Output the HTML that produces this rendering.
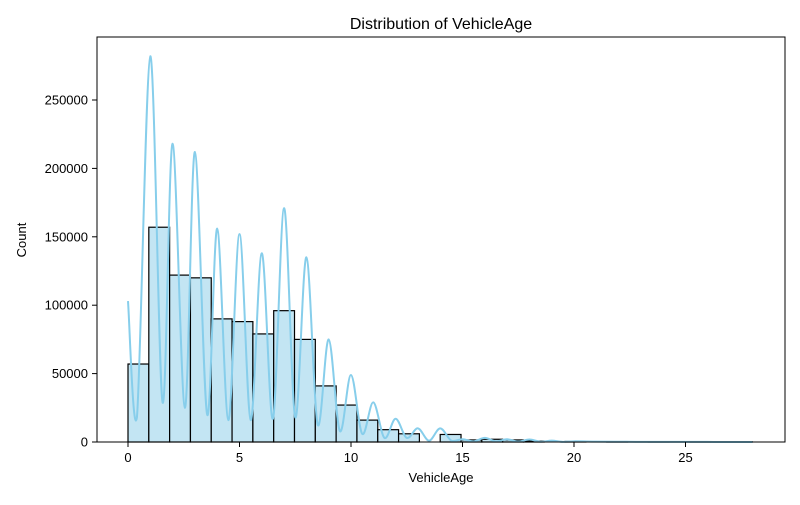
<!DOCTYPE html>
<html><head><meta charset="utf-8"><style>
body{margin:0;background:#fff;}
svg text{font-family:"Liberation Sans","DejaVu Sans",sans-serif;fill:#000;}
</style></head><body>
<svg id="chart" width="800" height="500" xmlns="http://www.w3.org/2000/svg">
<rect width="800" height="500" fill="#fff"/>
<g id="bars"></g>
<g id="kde"></g>
<rect x="97" y="37" width="688" height="405" fill="none" stroke="#000" stroke-width="1"/>
<g id="xticks"></g>
<g id="yticks"></g>
<text x="441" y="29" font-size="16" text-anchor="middle">Distribution of VehicleAge</text>
<text x="441" y="482" font-size="13" text-anchor="middle">VehicleAge</text>
<text x="26" y="240" font-size="13" text-anchor="middle" transform="rotate(-90 26 240)">Count</text>
</svg>
<script>
const binCounts=[57000,157000,122000,120000,90000,88000,79000,96000,75000,41000,27000,16000,9000,6000,0,5500,1500,2000,1500,700,0,400,0,300,0,200,0,100,0,100];
const kdeX=[0,0.4,1,1.55,2,2.55,3,3.55,4,4.5,5,5.5,6,6.5,7,7.5,8,8.5,9,9.5,10,10.5,11,11.5,12,12.5,13,13.5,14,14.5,15,15.5,16,16.5,17,17.5,18,18.5,19,19.5,20,21,22,23,24,25,26,27,28];
const kdeY=[103000,18000,282000,29000,218000,25000,212000,20000,156000,16000,152000,16000,138000,17000,171000,18000,135000,13000,75000,8000,49000,6000,29000,3000,17000,3000,10000,1000,10000,1000,2000,500,3000,500,2000,300,1800,200,1000,100,500,300,200,100,100,50,50,20,0];
const xTicks=[0,5,10,15,20,25];
const yTicks=[0,50000,100000,150000,200000,250000];
const xMin=0,xMax=28,nBins=30;
const sx=v=>128+v*22.3;
const sy=v=>442-v*(68.4/50000);
const NS="http://www.w3.org/2000/svg";
const bw=(xMax-xMin)/nBins;
const bars=document.getElementById('bars');
binCounts.forEach((c,i)=>{
  if(c<=0)return;
  const r=document.createElementNS(NS,'rect');
  const x0=sx(xMin+i*bw),x1=sx(xMin+(i+1)*bw);
  r.setAttribute('x',x0);r.setAttribute('width',x1-x0);
  r.setAttribute('y',sy(c));r.setAttribute('height',442-sy(c));
  r.setAttribute('fill','#c3e5f3');r.setAttribute('stroke','#000');r.setAttribute('stroke-width','1.2');
  
  
  bars.appendChild(r);
});
// Catmull-Rom curve
const pts=kdeX.map((x,i)=>[sx(x),sy(kdeY[i])]);
let d='M'+pts[0][0]+','+pts[0][1];
for(let i=0;i<pts.length-1;i++){
  const p0=pts[Math.max(0,i-1)],p1=pts[i],p2=pts[i+1],p3=pts[Math.min(pts.length-1,i+2)];
  const c1=[p1[0]+(p2[0]-p0[0])/6,p1[1]+(p2[1]-p0[1])/6];
  const c2=[p2[0]-(p3[0]-p1[0])/6,p2[1]-(p3[1]-p1[1])/6];
  d+=` C${c1[0]},${Math.min(442,c1[1])} ${c2[0]},${Math.min(442,c2[1])} ${p2[0]},${p2[1]}`;
}
const path=document.createElementNS(NS,'path');
path.setAttribute('d',d);path.setAttribute('fill','none');path.setAttribute('stroke','#87ceeb');path.setAttribute('stroke-width','2');


document.getElementById('kde').appendChild(path);
const xt=document.getElementById('xticks');
xTicks.forEach(v=>{
  const l=document.createElementNS(NS,'line');
  l.setAttribute('x1',sx(v));l.setAttribute('x2',sx(v));l.setAttribute('y1',442);l.setAttribute('y2',447);l.setAttribute('stroke','#000');
  
  
  xt.appendChild(l);
  const t=document.createElementNS(NS,'text');
  t.setAttribute('x',sx(v));t.setAttribute('y',462);t.setAttribute('font-size','13');t.setAttribute('text-anchor','middle');
  t.textContent=v;
  
  
  xt.appendChild(t);
});
const yt=document.getElementById('yticks');
yTicks.forEach(v=>{
  const l=document.createElementNS(NS,'line');
  l.setAttribute('x1',92);l.setAttribute('x2',97);l.setAttribute('y1',sy(v));l.setAttribute('y2',sy(v));l.setAttribute('stroke','#000');
  
  
  yt.appendChild(l);
  const t=document.createElementNS(NS,'text');
  t.setAttribute('x',88);t.setAttribute('y',sy(v)+4.5);t.setAttribute('font-size','13');t.setAttribute('text-anchor','end');
  t.textContent=v;
  
  
  yt.appendChild(t);
});
</script>
</body></html>
